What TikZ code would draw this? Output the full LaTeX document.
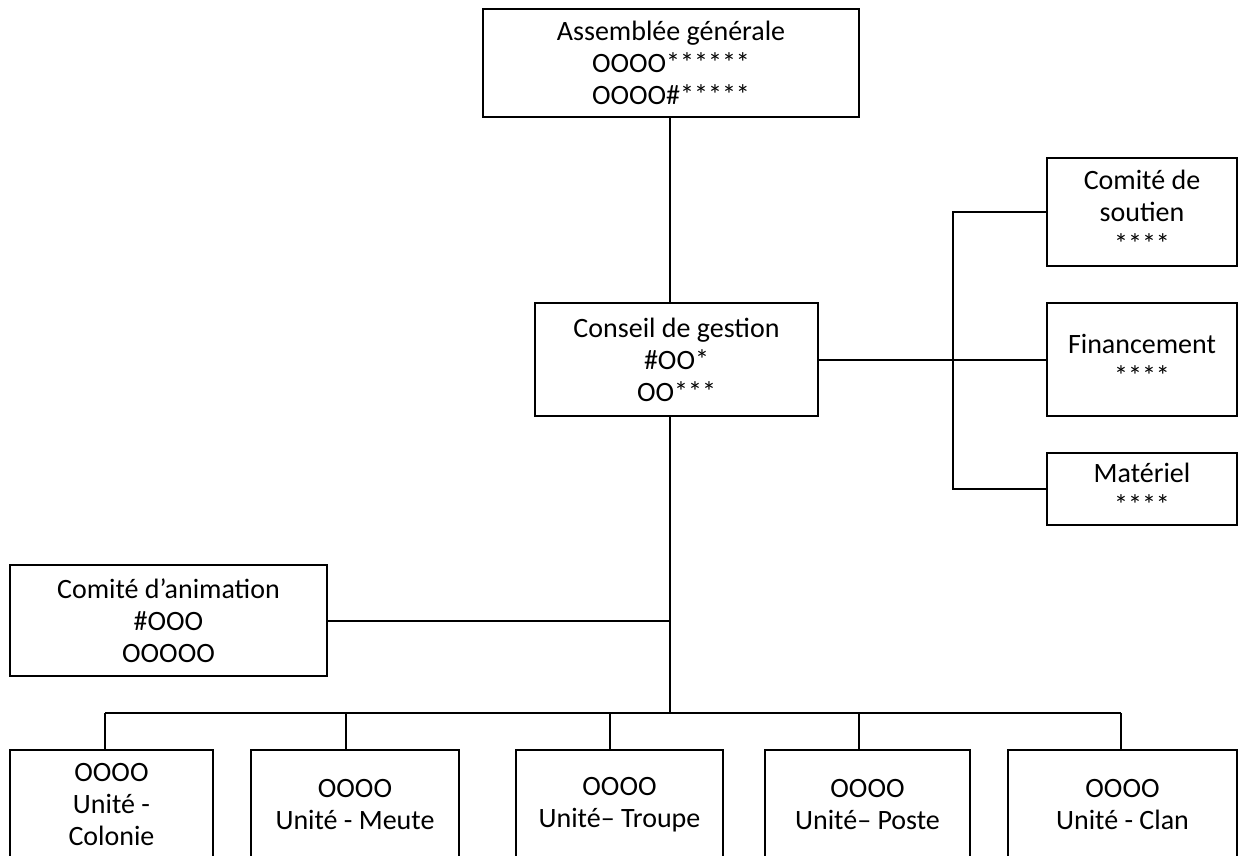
\documentclass[tikz,border=0pt]{standalone}
\usepackage{fontspec}
\setmainfont{Carlito}
\begin{document}
\begin{tikzpicture}[x=1pt,y=-1pt,
  box/.style={draw, line width=2pt, inner sep=0pt, align=center,
    font=\fontsize{28}{32}\selectfont},
  conn/.style={line width=2pt}]
\useasboundingbox (0,0) rectangle (1238,855);
\clip (0,0) rectangle (1238,855);
% nodes
\node[box, minimum width=376, minimum height=108] (ag) at (671,63)
  {Assemblée générale\\OOOO******\\OOOO\#*****};
\node[box, minimum width=283, minimum height=113] (cg) at (676.5,359.5)
  {Conseil de gestion\\\#OO*\\OO***};
\node[box, minimum width=190, minimum height=108] (cs) at (1142,212)
  {Comité de\\soutien\\****};
\node[box, minimum width=190, minimum height=113] (fin) at (1142,359.5)
  {Financement\\****};
\node[box, minimum width=190, minimum height=72] (mat) at (1142,489)
  {Matériel\\****};
\node[box, minimum width=317, minimum height=111] (ca) at (168.5,620.5)
  {Comité d’animation\\\#OOO\\OOOOO};
\node[box, minimum width=203, minimum height=109] (u1) at (111.5,804.5)
  {OOOO\\Unité -\\Colonie};
\node[box, minimum width=208, minimum height=109] (u2) at (355,804.5)
  {OOOO\\Unité - Meute};
\node[box, minimum width=207, minimum height=109] (u3) at (619.5,804.5)
  {OOOO\\Unité– Troupe};
\node[box, minimum width=205, minimum height=109] (u4) at (867.5,804.5)
  {OOOO\\Unité– Poste};
\node[box, minimum width=229, minimum height=109] (u5) at (1122.5,804.5)
  {OOOO\\Unité - Clan};
% helper coordinates
\coordinate (trunk) at (670,713);
\coordinate (rx) at (953,0);
\coordinate (d1) at (105,713);
\coordinate (d2) at (346,713);
\coordinate (d3) at (610,713);
\coordinate (d4) at (859,713);
\coordinate (d5) at (1121,713);
% connectors
\draw[conn] (ag.south -| trunk) -- (cg.north -| trunk);
\draw[conn] (cg.south -| trunk) -- (trunk);
\draw[conn] (cg.east) -- (fin.west);
\draw[conn] (cs.west) -- (cs.west -| rx) -- (mat.west -| rx) -- (mat.west);
\draw[conn] (ca.east) -- (ca.east -| trunk);
\draw[conn] (d1) -- (d5);
\draw[conn] (d1) -- (d1 |- u1.north);
\draw[conn] (d2) -- (d2 |- u2.north);
\draw[conn] (d3) -- (d3 |- u3.north);
\draw[conn] (d4) -- (d4 |- u4.north);
\draw[conn] (d5) -- (d5 |- u5.north);
\end{tikzpicture}
\end{document}
